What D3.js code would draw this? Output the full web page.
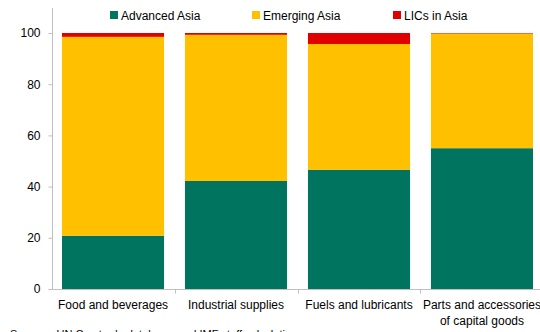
<!DOCTYPE html>
<html><head><meta charset="utf-8">
<script src="https://cdn.jsdelivr.net/npm/d3@7"></script>
<style>body{margin:0;background:#fff}svg{display:block;font-family:"Liberation Sans",Arial,sans-serif}</style>
</head><body>
<svg id="c" width="540" height="332"></svg>
<script>
const categories = ["Food and beverages","Industrial supplies","Fuels and lubricants","Parts and accessories|of capital goods"];
const seriesNames = ["Advanced Asia","Emerging Asia","LICs in Asia"];
const advanced = [20.8, 42.2, 46.6, 55.0];
const emerging = [77.7, 57.1, 49.1, 44.8];
const lics = [1.5, 0.7, 4.3, 0.2];
const yTicks = [0,20,40,60,80,100];
const colors = ["#00745f","#ffc000","#e00000"];

const svg = d3.select("#c");
const x = d3.scaleBand().domain(categories).range([53,542]).paddingInner(0.17).paddingOuter(0.073);
const y = d3.scaleLinear().domain([0,100]).range([289,33]);

const rows = categories.map((c,i)=>({cat:c, "Advanced Asia":advanced[i], "Emerging Asia":emerging[i], "LICs in Asia":lics[i]}));
const stacked = d3.stack().keys(seriesNames)(rows);

svg.append("g").selectAll("g").data(stacked).join("g")
  .attr("fill",(d,i)=>colors[i])
  .selectAll("rect").data(d=>d).join("rect")
  .attr("x",d=>x(d.data.cat)).attr("width",x.bandwidth())
  .attr("y",d=>y(d[1])).attr("height",d=>y(d[0])-y(d[1]));

// y axis
const axisColor = "#bfbfbf";
const ya = svg.append("g").attr("transform","translate(52.5,0)")
  .call(d3.axisLeft(y).tickValues(yTicks).tickSize(4).tickPadding(8));
ya.select(".domain").attr("stroke",axisColor).attr("d","M-0,8V289.5");
ya.selectAll(".tick line").attr("stroke",axisColor);
ya.selectAll(".tick text").attr("font-size",12).attr("fill","#000").attr("font-family","Liberation Sans, Arial, sans-serif");

// x axis line with boundary ticks
const xa = svg.append("g");
xa.append("line").attr("x1",52.5).attr("x2",540).attr("y1",289.5).attr("y2",289.5).attr("stroke",axisColor);
const step = x.step();
const bounds = categories.slice(1).map(c=>x(c) - (step - x.bandwidth())/2);
xa.selectAll("line.t").data(bounds).join("line").attr("class","t")
  .attr("x1",d=>Math.round(d)+0.5).attr("x2",d=>Math.round(d)+0.5).attr("y1",289.5).attr("y2",293.5).attr("stroke",axisColor);

// category labels
const lbl = svg.append("g").attr("font-size",12).attr("text-anchor","middle").attr("fill","#000");
categories.forEach(c=>{
  const parts = c.split("|");
  const t = lbl.append("text").attr("x",x(c)+x.bandwidth()/2).attr("y",309);
  parts.forEach((p,j)=>t.append("tspan").attr("x",x(c)+x.bandwidth()/2).attr("dy",j?16:0).text(p));
});

// legend
const legX = [110,252,393];
const lg = svg.append("g").attr("font-size",12);
seriesNames.forEach((s,i)=>{
  lg.append("rect").attr("x",legX[i]).attr("y",11).attr("width",8).attr("height",8).attr("fill",colors[i]);
  lg.append("text").attr("x",legX[i]+11).attr("y",19.5).text(s);
});

// source (clipped at bottom)
svg.append("text").attr("x",10).attr("y",338).attr("font-size",11).text("Sources: UN Comtrade database; and IMF staff calculations.");
</script>
</body></html>
